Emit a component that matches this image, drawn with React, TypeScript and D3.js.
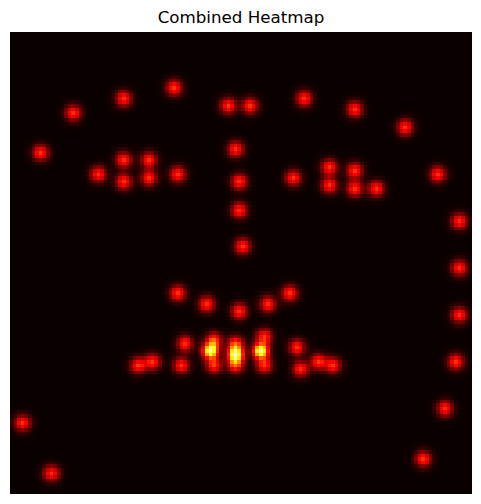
import { useEffect, useRef } from "react";
import * as d3 from "d3";

// keypoint centres in heatmap cells (128 x 128 grid)
const pointX = [
    31, 45, 17, 60, 66, 81, 95, 109, 8, 62,
    31, 38, 24, 31, 38, 46, 63, 78, 88, 95,
    88, 95, 101, 118, 63, 124, 64, 124, 46, 54,
    63, 71, 77, 124, 70, 48, 56, 62, 79, 55,
    55, 62, 62, 69, 69, 35, 39, 47, 56, 62,
    70, 80, 85, 89, 123, 120, 3, 114, 11,
];
const pointY = [
    18, 15, 22, 20, 20, 18, 21, 26, 33, 32,
    35, 35, 39, 41, 40, 39, 41, 40, 37, 38,
    42, 43, 43, 39, 49, 52, 59, 65, 72, 75,
    77, 75, 72, 78, 84, 86, 85, 86, 87, 88,
    88, 89, 89, 88, 88, 92, 91, 92, 92, 92,
    92, 93, 91, 92, 91, 104, 108, 118, 122,
];

const gridSize = 128;
const sigma = 1.5;
const title = "Combined Heatmap";

const width = 481;
const height = 504;
const margin = { left: 10, top: 32, right: 9, bottom: 10.7 };

function Heatmap() {
    const ref = useRef<SVGSVGElement | null>(null);

    useEffect(() => {
        if (!ref.current) return;

        const svg = d3.select(ref.current);
        svg.selectAll("*").remove();

        // sum of gaussians, one per keypoint
        const cells: { i: number; j: number; v: number }[] = [];
        for (let j = 0; j < gridSize; j++) {
            for (let i = 0; i < gridSize; i++) {
                let v = 0;
                for (let k = 0; k < pointX.length; k++) {
                    const dx = i - pointX[k];
                    const dy = j - pointY[k];
                    v += Math.exp(-(dx * dx + dy * dy) / (2 * sigma * sigma));
                }
                cells.push({ i, j, v });
            }
        }

        const idx = d3.range(gridSize).map(String);
        const x = d3
            .scaleBand()
            .domain(idx)
            .range([margin.left, width - margin.right]);
        const y = d3
            .scaleBand()
            .domain(idx)
            .range([margin.top, height - margin.bottom]);

        // matplotlib "hot"
        const color = d3
            .scaleLinear<string>()
            .domain([
                d3.min(cells, (d) => d.v) ?? 0,
                0,
                0,
                d3.max(cells, (d) => d.v) ?? 1,
            ])
            .range(["#0b0000", "#ff0000", "#ffff00", "#ffffff"]);
        const [lo, hi] = [color.domain()[0], color.domain()[3]];
        color.domain([lo, lo + (hi - lo) * 0.365079, lo + (hi - lo) * 0.746032, hi]);

        svg.append("g")
            .attr("shape-rendering", "crispEdges")
            .selectAll("rect")
            .data(cells)
            .join("rect")
            .attr("x", (d) => x(String(d.i))!)
            .attr("y", (d) => y(String(d.j))!)
            .attr("width", x.bandwidth() + 0.3)
            .attr("height", y.bandwidth() + 0.3)
            .attr("fill", (d) => color(d.v));

        svg.append("text")
            .attr("x", (margin.left + width - margin.right) / 2)
            .attr("y", 23)
            .attr("text-anchor", "middle")
            .attr("font-family", "DejaVu Sans")
            .attr("font-size", 16.7)
            .attr("fill", "#000")
            .text(title);
    }, []);

    return <svg ref={ref} width={width} height={height} style={{ display: "block" }} />;
}

export default function App() {
    useEffect(() => {
        document.body.style.margin = "0";
    }, []);

    return (
        <div>
            <Heatmap />
        </div>
    );
}
